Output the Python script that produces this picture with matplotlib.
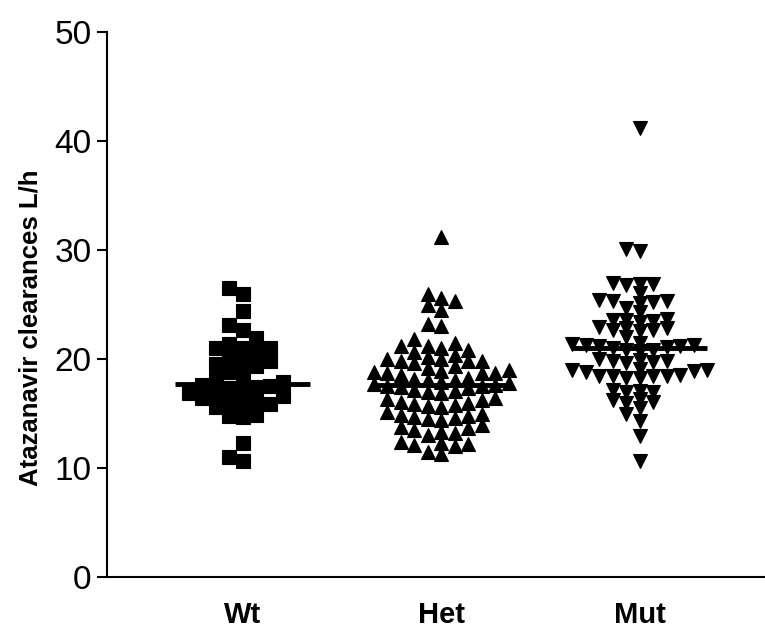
import numpy as np
import matplotlib
matplotlib.use("Agg")
import matplotlib.pyplot as plt

# Atazanavir clearance (L/h) by genotype
groups = ["Wt", "Het", "Mut"]

wt = [26.5, 26.0, 24.4, 23.1, 22.7, 21.9,
      21.4, 21.0, 20.7, 21.0, 21.0, 20.1, 19.8, 19.4, 19.5, 19.6,
      18.8, 18.5, 18.2, 17.9,
      17.6, 17.5, 17.4, 17.3, 17.1, 16.9, 16.8, 16.6, 16.4, 16.2,
      16.0, 15.9, 15.8, 15.6,
      14.9, 14.8, 14.7, 12.3, 11.0, 10.6]

het = [31.2, 26.0, 25.6, 25.3, 25.0, 24.5, 23.2, 23.0,
       21.8, 21.5, 21.2, 21.2, 21.0, 20.8, 20.6, 20.4, 20.2, 20.0, 20.0,
       19.8, 19.8, 19.8, 19.6, 19.4, 19.2, 19.0, 18.9, 18.8, 18.7, 18.7,
       18.7, 18.5, 18.3, 18.2, 18.1, 18.1,
       17.9, 17.8, 17.7, 17.6, 17.5, 17.5, 17.4, 17.3, 17.2, 17.1, 17.0, 16.9,
       16.4, 16.3, 16.2, 16.1, 16.0, 15.9, 15.8, 15.7, 15.6,
       15.1, 15.0, 14.9, 14.8, 14.7, 14.6, 14.5, 14.4,
       13.9, 13.8, 13.7, 13.5, 13.3, 13.2, 13.0,
       12.4, 12.3, 12.2, 12.1, 12.0, 11.5, 11.3]

mut = [41.2, 30.1, 29.9,
       27.0, 26.9, 26.8, 26.9, 26.1,
       25.4, 25.3, 25.2, 25.3, 25.1, 24.7, 24.3,
       23.7, 23.6, 23.5, 23.6, 23.4,
       22.9, 22.8, 22.7, 22.8, 22.6, 22.7, 22.0,
       21.5, 21.4, 21.3, 21.3, 21.2, 21.2, 21.1, 21.0,
       20.8, 20.8, 20.7,
       20.0, 19.9, 19.8, 19.7, 19.8, 19.6,
       19.1, 19.0, 18.9, 19.0, 18.8,
       18.4, 18.4, 18.3, 18.5, 18.4, 18.3, 18.4,
       17.1, 17.0, 17.2, 17.0,
       16.3, 16.0, 16.2, 16.1,
       15.5, 15.0, 14.3, 12.9, 10.6]

series = [wt, het, mut]
markers = ["s", "^", "v"]
stack_gaps = [1.1, 0.95, 0.75]
yticks = [0, 10, 20, 30, 40, 50]


def column_layout(values, center, step, min_gap):
    """Place points in columns around a centre so that stacked points
    in the same column stay at least min_gap apart vertically."""
    vals = np.asarray(values, dtype=float)
    order = np.argsort(vals)
    cols = {}
    xs = np.zeros_like(vals)
    for i in order:
        v = vals[i]
        n = 0
        while True:
            k = 0 if n == 0 else ((n + 1) // 2) * (-1 if n % 2 else 1)
            placed = cols.get(k, [])
            if all(abs(v - p) >= min_gap for p in placed):
                cols.setdefault(k, []).append(v)
                xs[i] = center + k * step
                break
            n += 1
    return xs, vals


fig = plt.figure(figsize=(7.65, 6.33), dpi=100)
ax = fig.add_axes([107 / 765, 56 / 633, 1 - 107 / 765, (577 - 32) / 633])

for i, (vals, m, gap) in enumerate(zip(series, markers, stack_gaps)):
    xs, ys = column_layout(vals, i, 0.068, gap)
    ax.plot(xs, ys, linestyle="none", marker=m, markersize=9.5,
            color="black", markeredgewidth=0.8)
    med = np.median(vals)
    ax.plot([i - 0.34, i + 0.34], [med, med], color="black", linewidth=3.5,
            solid_capstyle="butt")

ax.set_xlim(-0.685, 2.63)
ax.set_ylim(0, 50)
ax.set_yticks(yticks)
ax.set_yticklabels([str(t) for t in yticks], fontsize=24,
                   family=["Liberation Sans", "DejaVu Sans"])
ax.set_xticks(range(len(groups)))
ax.set_xticklabels(groups, fontsize=21, fontweight="bold",
                   family=["Liberation Sans", "DejaVu Sans"])
ax.tick_params(axis="x", length=0, pad=17)
ax.tick_params(axis="y", length=7, width=1.5, direction="out", pad=4)

for side in ("top", "right"):
    ax.spines[side].set_visible(False)
ax.spines["left"].set_linewidth(1.5)
ax.spines["bottom"].set_linewidth(1.5)

fig.text(31 / 765, 1 - 328 / 633, "Atazanavir clearances L/h", rotation=90,
         ha="center", va="center", fontsize=18.5, fontweight="bold",
         family=["Liberation Sans", "DejaVu Sans"])

fig.savefig("out.png", dpi=100)
